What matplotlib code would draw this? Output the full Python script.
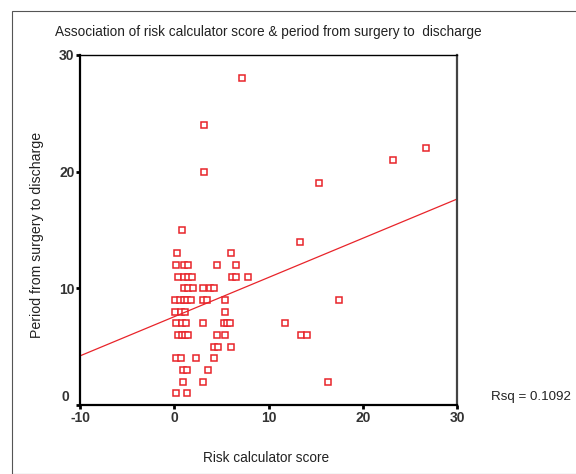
import matplotlib
matplotlib.use("Agg")
import matplotlib.pyplot as plt
from matplotlib.patches import Rectangle
import matplotlib.transforms as mtransforms
import numpy as np

plt.rcParams['font.family'] = ['Liberation Sans', 'DejaVu Sans']
plt.rcParams['axes.unicode_minus'] = False

# Risk calculator score (x) and period from surgery to discharge (y)
risk_score = [
    7.2, 3.2, 26.7, 23.2, 3.2, 15.4, 0.8, 13.3,
    0.3, 6.0,
    0.2, 1.0, 1.5, 4.5, 6.6,
    0.4, 1.0, 1.5, 1.9, 6.1, 6.6, 7.8,
    1.0, 1.5, 2.0, 3.1, 3.8, 4.2,
    0.1, 0.6, 1.0, 1.4, 1.8, 3.1, 3.5, 5.4, 17.5,
    0.1, 0.7, 1.1, 5.4,
    0.2, 0.85, 1.2, 3.1, 5.3, 5.6, 5.9, 11.8,
    0.35, 0.8, 1.1, 1.5, 4.5, 5.4, 13.5, 14.1,
    4.2, 4.6, 6.0,
    0.15, 0.7, 2.3, 4.2,
    0.9, 1.3, 3.6,
    0.9, 3.1, 16.3,
    0.15, 1.3,
]
discharge_days = [
    28, 24, 22, 21, 20, 19, 15, 14,
    13, 13,
    12, 12, 12, 12, 12,
    11, 11, 11, 11, 11, 11, 11,
    10, 10, 10, 10, 10, 10,
    9, 9, 9, 9, 9, 9, 9, 9, 9,
    8, 8, 8, 8,
    7, 7, 7, 7, 7, 7, 7, 7,
    6, 6, 6, 6, 6, 6, 6, 6,
    5, 5, 5,
    4, 4, 4, 4,
    3, 3, 3,
    2, 2, 2,
    1, 1,
]
fit_intercept = 7.57
fit_slope = 0.336
rsq_text = "Rsq = 0.1092"
x_ticks = [-10, 0, 10, 20, 30]
y_ticks = [0, 10, 20, 30]

W, H = 576, 474
fig = plt.figure(figsize=(W / 100, H / 100), dpi=100)

# outer frame
fig.patches.append(Rectangle((12 / W, 0), 1, 1 - 11 / H, transform=fig.transFigure,
                             fill=False, edgecolor='#555555', linewidth=0.8))

ax = fig.add_axes([80 / W, 1 - 405 / H, (457 - 80) / W, (405 - 55) / H])
red = '#e8242a'
ax.plot(risk_score, discharge_days, linestyle='none', marker='s', markersize=4.2,
        markerfacecolor='white', markeredgecolor=red, markeredgewidth=1.1, clip_on=False)
xl = np.array([-10, 30])
ax.plot(xl, fit_intercept + fit_slope * xl, color=red, linewidth=0.9)

ax.set_xlim(-10, 30)
ax.set_ylim(0, 30)
ax.set_xticks(x_ticks)
ax.set_yticks(y_ticks)
ax.tick_params(axis='both', direction='out', length=3, width=2, labelsize=10, pad=1)
for lab in ax.get_xticklabels() + ax.get_yticklabels():
    lab.set_fontweight('bold')
    lab.set_color('#333333')
# lift the y "0" label above the x axis as in the reference
ylab0 = ax.get_yticklabels()[0]
ylab0.set_transform(ylab0.get_transform() + mtransforms.ScaledTranslation(-4 / 72, 7 / 72, fig.dpi_scale_trans))

ax.spines['left'].set_linewidth(1.6)
ax.spines['bottom'].set_linewidth(1.6)
ax.spines['top'].set_linewidth(1.0)
ax.spines['right'].set_linewidth(1.6)
ax.spines['right'].set_color('#444444')

fig.text(55 / W, 1 - 32 / H, "Association of risk calculator score & period from surgery to  discharge",
         fontsize=9.8, va='center', ha='left', color='#222222')
fig.text(37 / W, 1 - 235 / H, "Period from surgery to discharge", rotation=90,
         fontsize=10.2, va='center', ha='center', color='#222222')
fig.text(266 / W, 1 - 458 / H, "Risk calculator score",
         fontsize=9.8, va='center', ha='center', color='#222222')
fig.text(491 / W, 1 - 397 / H, rsq_text, fontsize=9.6, va='center', ha='left', color='#222222')

fig.savefig("out.png", dpi=100)
